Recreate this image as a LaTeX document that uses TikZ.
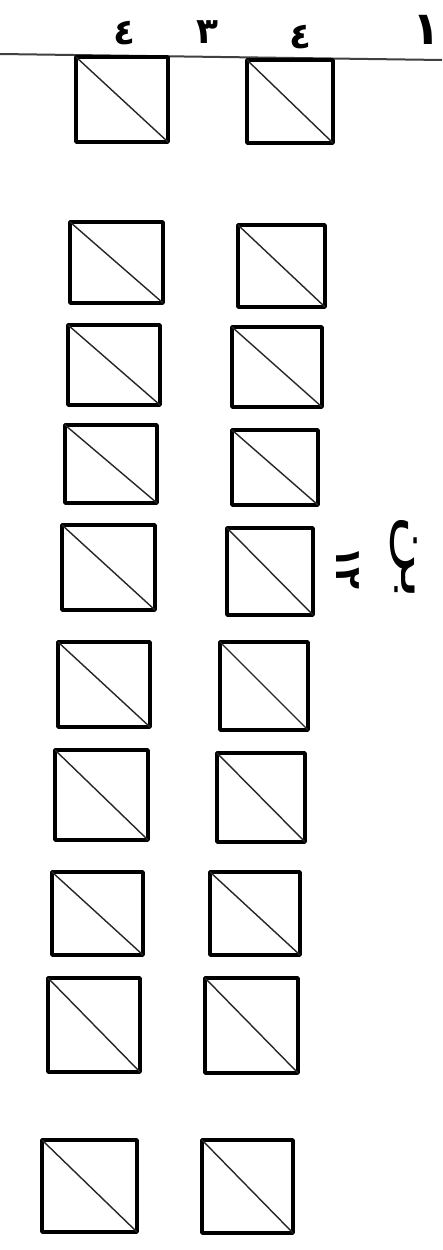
\documentclass[tikz,border=0pt]{standalone}
\usepackage{fontspec}
\newfontfamily\arabicfont[Script=Arabic]{DejaVu Sans}
\TeXXeTstate=1
\tikzset{
  wall/.style={draw=black, line width=3.6pt, line join=round},
  diag/.style={draw=black!85, line width=1.4pt},
  ruleline/.style={draw=black!75, line width=2pt},
  lbl/.style={font=\arabicfont\bfseries\fontsize{36}{36}\selectfont, inner sep=0pt, text=black},
  biglbl/.style={font=\arabicfont\bfseries\fontsize{46}{46}\selectfont, inner sep=0pt, text=black},
  wordlbl/.style={font=\arabicfont\fontsize{46}{46}\selectfont, inner sep=0pt, text=black},
}
\newcommand\pillarbox[5]{%
  \coordinate (#1-a) at (#2,#3);
  \coordinate (#1-b) at (#4,#5);
  \draw[wall] (#1-a) rectangle (#1-b);
  \draw[diag] (#1-a) -- (#1-b);}
\begin{document}
\begin{tikzpicture}[x=1pt,y=-1pt]
\useasboundingbox[fill=white] (0,0) rectangle (442,1250);
% base line
\coordinate (lineW) at (0,54);
\coordinate (lineE) at (442,60);
\draw[ruleline] (lineW) -- (lineE);
% labels
\node[lbl] (d1) at (124,33) {٤};
\node[lbl] (d2) at (207,32) {٣};
\node[lbl] (d3) at (300,37) {٤};
\node[biglbl, anchor=west] (d4) at (412,30) {١٠};
% pillars
\pillarbox{L1}{76}{57}{168}{142}   \pillarbox{R1}{247}{60}{333}{143}
\pillarbox{L2}{70}{222}{163}{303}  \pillarbox{R2}{238}{225}{325}{307}
\pillarbox{L3}{68}{325}{160}{405}  \pillarbox{R3}{232}{327}{322}{407}
\pillarbox{L4}{65}{425}{157}{503}  \pillarbox{R4}{232}{430}{318}{505}
\pillarbox{L5}{62}{525}{155}{610}  \pillarbox{R5}{227}{528}{313}{615}
\pillarbox{L6}{58}{642}{150}{727}  \pillarbox{R6}{220}{642}{308}{730}
\pillarbox{L7}{55}{750}{148}{840}  \pillarbox{R7}{217}{753}{305}{842}
\pillarbox{L8}{52}{872}{143}{955}  \pillarbox{R8}{210}{872}{300}{955}
\pillarbox{L9}{48}{978}{140}{1072} \pillarbox{R9}{205}{978}{298}{1073}
\pillarbox{L10}{42}{1140}{137}{1232} \pillarbox{R10}{202}{1140}{293}{1233}
% side label
\node[lbl, rotate=-90] (num) at (348,568) {١٢};
\node[wordlbl, rotate=-90] (unit) at (404,558) {\scalebox{1.8}[1.0]{\beginR بن\endR}};
\end{tikzpicture}
\end{document}
